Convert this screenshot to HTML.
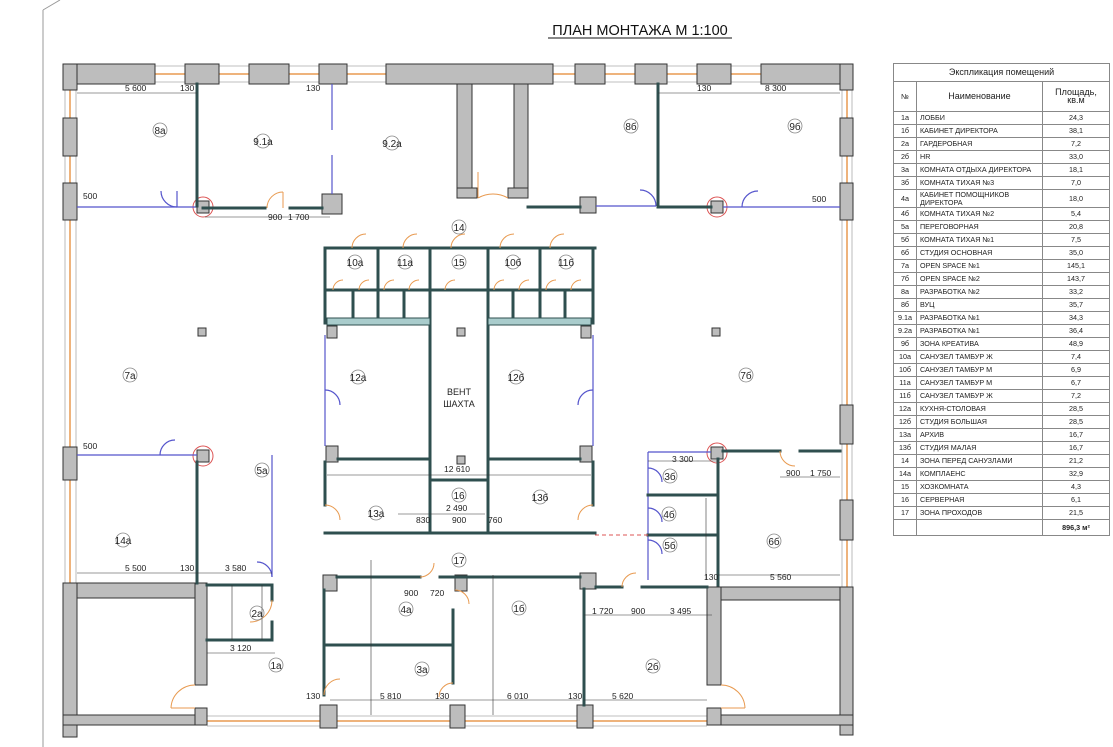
<!DOCTYPE html>
<html><head><meta charset="utf-8"><style>
body{margin:0;background:#fff;width:1113px;height:747px;overflow:hidden;font-family:"Liberation Sans",sans-serif}
svg{position:absolute;left:0;top:0}
#tb{position:absolute;left:893px;top:63px;width:217px;border-collapse:collapse;font-size:7.2px;color:#222}
#tb td{border:1px solid #888;padding:0 3px;height:12px;line-height:7.5px}
#tb td.c{text-align:center}
</style></head><body>
<svg width="1113" height="747" viewBox="0 0 1113 747" font-family="Liberation Sans, sans-serif">
<line x1="43" y1="10" x2="43" y2="747" stroke="#999" stroke-width="1"/>
<line x1="43" y1="10" x2="60" y2="0" stroke="#999"/>
<text x="640" y="35" font-size="14.5" text-anchor="middle" fill="#111">ПЛАН МОНТАЖА  М 1:100</text>
<line x1="548" y1="38" x2="732" y2="38" stroke="#111"/>
<g stroke="#aaa" stroke-width="0.8">
<line x1="63" y1="66" x2="853" y2="66"/><line x1="63" y1="82" x2="853" y2="82"/>
<line x1="65" y1="84" x2="65" y2="583"/><line x1="76" y1="84" x2="76" y2="583"/>
<line x1="842" y1="84" x2="842" y2="588"/><line x1="852" y1="84" x2="852" y2="588"/>
<line x1="207" y1="716" x2="707" y2="716"/><line x1="207" y1="726" x2="707" y2="726"/>
</g>
<g stroke="#e89a50" stroke-width="1.5">
<line x1="63" y1="74" x2="853" y2="74"/><line x1="70" y1="84" x2="70" y2="583"/>
<line x1="847" y1="84" x2="847" y2="588"/><line x1="207" y1="721" x2="707" y2="721"/>
</g>
<g fill="#bdbdbd" stroke="#333" stroke-width="1">
<rect x="63" y="64" width="92" height="20"/><rect x="63" y="64" width="14" height="26"/>
<rect x="63" y="118" width="14" height="38"/><rect x="63" y="183" width="14" height="37"/><rect x="63" y="447" width="14" height="33"/>
<rect x="185" y="64" width="34" height="20"/><rect x="249" y="64" width="40" height="20"/><rect x="319" y="64" width="28" height="20"/>
<rect x="386" y="64" width="167" height="20"/><rect x="575" y="64" width="30" height="20"/><rect x="635" y="64" width="32" height="20"/>
<rect x="697" y="64" width="34" height="20"/><rect x="761" y="64" width="92" height="20"/><rect x="840" y="64" width="13" height="26"/>
<rect x="840" y="118" width="13" height="38"/><rect x="840" y="183" width="13" height="37"/><rect x="840" y="405" width="13" height="39"/><rect x="840" y="500" width="13" height="40"/>
<rect x="320" y="705" width="17" height="23"/><rect x="450" y="705" width="15" height="23"/><rect x="577" y="705" width="16" height="23"/>
<rect x="63" y="583" width="144" height="15"/><rect x="63" y="583" width="14" height="154"/><rect x="63" y="715" width="144" height="10"/>
<rect x="195" y="583" width="12" height="102"/><rect x="195" y="708" width="12" height="17"/>
<rect x="707" y="587" width="146" height="13"/><rect x="840" y="587" width="13" height="148"/><rect x="707" y="715" width="146" height="10"/>
<rect x="707" y="587" width="14" height="98"/><rect x="707" y="708" width="14" height="17"/>
<rect x="457" y="84" width="15" height="114"/><rect x="514" y="84" width="14" height="114"/>
<rect x="457" y="188" width="20" height="10"/><rect x="508" y="188" width="20" height="10"/>
<rect x="322" y="194" width="20" height="20"/><rect x="580" y="197" width="16" height="16"/>
<rect x="197" y="201" width="12" height="12"/><rect x="711" y="201" width="12" height="12"/>
<rect x="197" y="450" width="12" height="12"/><rect x="711" y="447" width="12" height="12"/>
<rect x="326" y="446" width="12" height="16"/><rect x="580" y="446" width="12" height="16"/>
<rect x="327" y="326" width="10" height="12"/><rect x="581" y="326" width="10" height="12"/>
<rect x="580" y="573" width="16" height="16"/><rect x="323" y="575" width="14" height="16"/><rect x="455" y="575" width="12" height="16"/>
<rect x="198" y="328" width="8" height="8"/><rect x="457" y="328" width="8" height="8"/><rect x="712" y="328" width="8" height="8"/><rect x="457" y="456" width="8" height="8"/>
</g>
<g fill="none" stroke="#d55" stroke-width="1"><circle cx="203" cy="207" r="10"/><circle cx="717" cy="207" r="10"/><circle cx="203" cy="456" r="10"/><circle cx="717" cy="453" r="10"/></g>
<g stroke="#5555cc" stroke-width="1.2" fill="none">
<line x1="77" y1="207" x2="197" y2="207"/><line x1="332" y1="84" x2="332" y2="130"/><line x1="332" y1="155" x2="332" y2="194"/>
<line x1="596" y1="206" x2="656" y2="206"/><line x1="723" y1="207" x2="840" y2="207"/>
<line x1="325" y1="335" x2="325" y2="446"/><line x1="593" y1="335" x2="593" y2="446"/>
<line x1="77" y1="455" x2="197" y2="455"/><line x1="272" y1="455" x2="272" y2="577"/>
<line x1="648" y1="452" x2="711" y2="452"/><line x1="648" y1="452" x2="648" y2="580"/>
<path d="M177 207 A16 16 0 0 1 161 191"/><line x1="177" y1="207" x2="177" y2="191"/>
<path d="M656 206 A16 16 0 0 0 640 190"/><path d="M742 207 A16 16 0 0 1 758 191"/>
<path d="M325 390 A15 15 0 0 1 340 405"/><path d="M593 390 A15 15 0 0 0 578 405"/>
<path d="M272 577 A15 15 0 0 0 257 562"/><path d="M648 468 A14 14 0 0 1 662 482"/>
<path d="M648 508 A14 14 0 0 1 662 522"/><path d="M648 540 A14 14 0 0 1 662 554"/>
<path d="M160 455 A15 15 0 0 1 175 440"/>
</g>
<g stroke="#2f4f4f" stroke-width="3" fill="none" stroke-linecap="square">
<line x1="197" y1="84" x2="197" y2="206"/><line x1="203" y1="208" x2="265" y2="208"/><line x1="290" y1="208" x2="322" y2="208"/>
<line x1="528" y1="207" x2="580" y2="207"/><line x1="658" y1="84" x2="658" y2="207"/><line x1="658" y1="207" x2="711" y2="207"/>
<line x1="325" y1="248" x2="595" y2="248"/><line x1="325" y1="248" x2="325" y2="323"/><line x1="593" y1="248" x2="593" y2="323"/>
<line x1="325" y1="462" x2="325" y2="505"/><line x1="593" y1="462" x2="593" y2="505"/>
<line x1="325" y1="533" x2="595" y2="533"/>
<line x1="430" y1="248" x2="430" y2="533"/><line x1="488" y1="248" x2="488" y2="533"/>
<line x1="430" y1="290" x2="488" y2="290"/><line x1="378" y1="248" x2="378" y2="290"/><line x1="540" y1="248" x2="540" y2="290"/>
<line x1="327" y1="290" x2="430" y2="290"/><line x1="488" y1="290" x2="591" y2="290"/>
<line x1="353" y1="290" x2="353" y2="318"/><line x1="378" y1="290" x2="378" y2="318"/><line x1="404" y1="290" x2="404" y2="318"/>
<line x1="513" y1="290" x2="513" y2="318"/><line x1="540" y1="290" x2="540" y2="318"/><line x1="565" y1="290" x2="565" y2="318"/>
<line x1="338" y1="459" x2="430" y2="459"/><line x1="488" y1="459" x2="580" y2="459"/><line x1="430" y1="480" x2="488" y2="480"/>
<line x1="337" y1="577" x2="420" y2="577"/><line x1="440" y1="577" x2="580" y2="577"/>
<line x1="324" y1="590" x2="324" y2="695"/><line x1="453" y1="610" x2="453" y2="683"/>
<line x1="324" y1="645" x2="453" y2="645"/><line x1="584" y1="589" x2="584" y2="705"/>
<line x1="596" y1="587" x2="622" y2="587"/><line x1="642" y1="587" x2="707" y2="587"/>
<line x1="718" y1="459" x2="718" y2="585"/><line x1="723" y1="451" x2="780" y2="451"/><line x1="800" y1="451" x2="840" y2="451"/>
<line x1="648" y1="495" x2="718" y2="495"/><line x1="648" y1="535" x2="718" y2="535"/>
<line x1="207" y1="585" x2="272" y2="585"/><line x1="272" y1="585" x2="272" y2="600"/><line x1="272" y1="622" x2="272" y2="640"/><line x1="207" y1="640" x2="272" y2="640"/>
<line x1="197" y1="462" x2="197" y2="583"/>
</g>
<rect x="327" y="318" width="103" height="7" fill="#a9cccc" stroke="#2f4f4f"/>
<rect x="488" y="318" width="103" height="7" fill="#a9cccc" stroke="#2f4f4f"/>
<g stroke="#e89a50" stroke-width="1" fill="none">
<path d="M478 198 A30 30 0 0 1 508 198"/><line x1="478" y1="198" x2="478" y2="172"/>
<path d="M267 208 A16 16 0 0 1 283 192"/><line x1="283" y1="208" x2="283" y2="192"/>
<path d="M352 248 A14 14 0 0 1 366 234"/><path d="M403 248 A14 14 0 0 1 417 234"/><path d="M451 248 A14 14 0 0 1 465 234"/>
<path d="M500 248 A14 14 0 0 1 514 234"/><path d="M550 248 A14 14 0 0 1 564 234"/>
<path d="M333 290 A10 10 0 0 1 343 280"/><path d="M359 290 A10 10 0 0 1 369 280"/><path d="M384 290 A10 10 0 0 1 394 280"/><path d="M409 290 A10 10 0 0 1 419 280"/>
<path d="M445 290 A10 10 0 0 1 455 280"/>
<path d="M494 290 A10 10 0 0 1 504 280"/><path d="M519 290 A10 10 0 0 1 529 280"/><path d="M546 290 A10 10 0 0 1 556 280"/><path d="M571 290 A10 10 0 0 1 581 280"/>
<path d="M325 505 A15 15 0 0 1 340 520"/><path d="M593 505 A15 15 0 0 0 578 520"/>
<path d="M420 577 A14 14 0 0 0 434 563"/><path d="M455 590 A14 14 0 0 1 469 604"/>
<path d="M324 695 A16 16 0 0 1 340 679"/><path d="M453 683 A14 14 0 0 0 439 697"/>
<path d="M622 587 A14 14 0 0 1 636 573"/><path d="M272 600 A22 22 0 0 1 250 622"/>
<path d="M780 451 A15 15 0 0 0 795 466"/>
<path d="M195 685 A24 24 0 0 0 171 708"/><line x1="171" y1="708" x2="195" y2="708"/>
<path d="M721 685 A24 24 0 0 1 745 708"/><line x1="721" y1="708" x2="745" y2="708"/>
</g>
<line x1="595" y1="535" x2="648" y2="535" stroke="#d55" stroke-dasharray="4 3"/>
<g stroke="#333" stroke-width="0.6">
<line x1="77" y1="93" x2="197" y2="93"/><line x1="658" y1="93" x2="840" y2="93"/>
<line x1="205" y1="217" x2="330" y2="217"/><line x1="327" y1="475" x2="591" y2="475"/>
<line x1="77" y1="573" x2="272" y2="573"/><line x1="718" y1="575" x2="840" y2="575"/>
<line x1="207" y1="653" x2="275" y2="653"/><line x1="330" y1="700" x2="580" y2="700"/><line x1="584" y1="700" x2="707" y2="700"/>
<line x1="584" y1="615" x2="712" y2="615"/><line x1="648" y1="461" x2="718" y2="461"/><line x1="780" y1="477" x2="840" y2="477"/>
<line x1="371" y1="560" x2="371" y2="715"/><line x1="493" y1="575" x2="493" y2="715"/><line x1="706" y1="498" x2="706" y2="580"/>
<line x1="398" y1="514" x2="485" y2="514"/><line x1="262" y1="585" x2="262" y2="640"/><line x1="232" y1="585" x2="232" y2="640"/>
</g>
<g font-size="8.5" fill="#222">
<text x="125" y="91">5 600</text><text x="180" y="91">130</text><text x="306" y="91">130</text><text x="697" y="91">130</text><text x="765" y="91">8 300</text>
<text x="83" y="199">500</text><text x="812" y="202">500</text><text x="268" y="220">900</text><text x="288" y="220">1 700</text>
<text x="83" y="449">500</text><text x="444" y="472">12 610</text><text x="446" y="511">2 490</text><text x="416" y="523">830</text><text x="452" y="523">900</text><text x="488" y="523">760</text>
<text x="125" y="571">5 500</text><text x="180" y="571">130</text><text x="225" y="571">3 580</text><text x="230" y="651">3 120</text>
<text x="672" y="462">3 300</text><text x="786" y="476">900</text><text x="810" y="476">1 750</text><text x="704" y="580">130</text><text x="770" y="580">5 560</text>
<text x="404" y="596">900</text><text x="430" y="596">720</text><text x="592" y="614">1 720</text><text x="631" y="614">900</text><text x="670" y="614">3 495</text>
<text x="306" y="699">130</text><text x="380" y="699">5 810</text><text x="435" y="699">130</text><text x="507" y="699">6 010</text><text x="568" y="699">130</text><text x="612" y="699">5 620</text>
</g>
<g font-size="10" fill="#222" text-anchor="middle"><g fill="none" stroke="#888" stroke-width="0.8">
<circle cx="160" cy="130" r="7"/><circle cx="263" cy="141" r="7"/><circle cx="392" cy="143" r="7"/><circle cx="631" cy="126" r="7"/><circle cx="795" cy="126" r="7"/>
<circle cx="459" cy="227" r="7"/><circle cx="355" cy="262" r="7"/><circle cx="405" cy="262" r="7"/><circle cx="459" cy="262" r="7"/><circle cx="513" cy="262" r="7"/><circle cx="566" cy="262" r="7"/>
<circle cx="130" cy="375" r="7"/><circle cx="358" cy="377" r="7"/><circle cx="516" cy="377" r="7"/><circle cx="746" cy="375" r="7"/><circle cx="262" cy="470" r="7"/>
<circle cx="376" cy="513" r="7"/><circle cx="459" cy="495" r="7"/><circle cx="540" cy="497" r="7"/><circle cx="123" cy="540" r="7"/>
<circle cx="670" cy="476" r="7"/><circle cx="669" cy="514" r="7"/><circle cx="670" cy="545" r="7"/><circle cx="774" cy="541" r="7"/>
<circle cx="459" cy="560" r="7"/><circle cx="257" cy="613" r="7"/><circle cx="276" cy="665" r="7"/><circle cx="406" cy="609" r="7"/><circle cx="422" cy="669" r="7"/><circle cx="519" cy="608" r="7"/><circle cx="653" cy="666" r="7"/></g>
<text x="160" y="134">8а</text><text x="263" y="145">9.1а</text><text x="392" y="147">9.2а</text><text x="631" y="130">8б</text><text x="795" y="130">9б</text>
<text x="459" y="231">14</text><text x="355" y="266">10а</text><text x="405" y="266">11а</text><text x="459" y="266">15</text><text x="513" y="266">10б</text><text x="566" y="266">11б</text>
<text x="130" y="379">7а</text><text x="358" y="381">12а</text><text x="516" y="381">12б</text><text x="746" y="379">7б</text><text x="262" y="474">5а</text>
<text x="376" y="517">13а</text><text x="459" y="499">16</text><text x="540" y="501">13б</text><text x="123" y="544">14а</text>
<text x="670" y="480">3б</text><text x="669" y="518">4б</text><text x="670" y="549">5б</text><text x="774" y="545">6б</text>
<text x="459" y="564">17</text><text x="257" y="617">2а</text><text x="276" y="669">1а</text><text x="406" y="613">4а</text><text x="422" y="673">3а</text><text x="519" y="612">1б</text><text x="653" y="670">2б</text>
<text x="459" y="395" font-size="9">ВЕНТ</text><text x="459" y="407" font-size="9">ШАХТА</text>
</g>
</svg>
<table id="tb">
<tr><td colspan="3" class="c" style="font-size:9px;height:17px">Экспликация помещений</td></tr>
<tr><td class="c" style="height:29px;width:16px">№</td><td class="c" style="font-size:9px">Наименование</td><td class="c" style="font-size:9px;width:60px">Площадь,<br>кв.м</td></tr>
<tr><td class="c">1а</td><td>ЛОББИ</td><td class="c">24,3</td></tr>
<tr><td class="c">1б</td><td>КАБИНЕТ ДИРЕКТОРА</td><td class="c">38,1</td></tr>
<tr><td class="c">2а</td><td>ГАРДЕРОБНАЯ</td><td class="c">7,2</td></tr>
<tr><td class="c">2б</td><td>HR</td><td class="c">33,0</td></tr>
<tr><td class="c">3а</td><td>КОМНАТА ОТДЫХА ДИРЕКТОРА</td><td class="c">18,1</td></tr>
<tr><td class="c">3б</td><td>КОМНАТА ТИХАЯ №3</td><td class="c">7,0</td></tr>
<tr><td class="c" style="height:17px">4а</td><td>КАБИНЕТ ПОМОЩНИКОВ ДИРЕКТОРА</td><td class="c">18,0</td></tr>
<tr><td class="c">4б</td><td>КОМНАТА ТИХАЯ №2</td><td class="c">5,4</td></tr>
<tr><td class="c">5а</td><td>ПЕРЕГОВОРНАЯ</td><td class="c">20,8</td></tr>
<tr><td class="c">5б</td><td>КОМНАТА ТИХАЯ №1</td><td class="c">7,5</td></tr>
<tr><td class="c">6б</td><td>СТУДИЯ ОСНОВНАЯ</td><td class="c">35,0</td></tr>
<tr><td class="c">7а</td><td>OPEN SPACE №1</td><td class="c">145,1</td></tr>
<tr><td class="c">7б</td><td>OPEN SPACE №2</td><td class="c">143,7</td></tr>
<tr><td class="c">8а</td><td>РАЗРАБОТКА №2</td><td class="c">33,2</td></tr>
<tr><td class="c">8б</td><td>ВУЦ</td><td class="c">35,7</td></tr>
<tr><td class="c">9.1а</td><td>РАЗРАБОТКА №1</td><td class="c">34,3</td></tr>
<tr><td class="c">9.2а</td><td>РАЗРАБОТКА №1</td><td class="c">36,4</td></tr>
<tr><td class="c">9б</td><td>ЗОНА КРЕАТИВА</td><td class="c">48,9</td></tr>
<tr><td class="c">10а</td><td>САНУЗЕЛ ТАМБУР Ж</td><td class="c">7,4</td></tr>
<tr><td class="c">10б</td><td>САНУЗЕЛ ТАМБУР М</td><td class="c">6,9</td></tr>
<tr><td class="c">11а</td><td>САНУЗЕЛ ТАМБУР М</td><td class="c">6,7</td></tr>
<tr><td class="c">11б</td><td>САНУЗЕЛ ТАМБУР Ж</td><td class="c">7,2</td></tr>
<tr><td class="c">12а</td><td>КУХНЯ-СТОЛОВАЯ</td><td class="c">28,5</td></tr>
<tr><td class="c">12б</td><td>СТУДИЯ БОЛЬШАЯ</td><td class="c">28,5</td></tr>
<tr><td class="c">13а</td><td>АРХИВ</td><td class="c">16,7</td></tr>
<tr><td class="c">13б</td><td>СТУДИЯ МАЛАЯ</td><td class="c">16,7</td></tr>
<tr><td class="c">14</td><td>ЗОНА ПЕРЕД САНУЗЛАМИ</td><td class="c">21,2</td></tr>
<tr><td class="c">14а</td><td>КОМПЛАЕНС</td><td class="c">32,9</td></tr>
<tr><td class="c">15</td><td>ХОЗКОМНАТА</td><td class="c">4,3</td></tr>
<tr><td class="c">16</td><td>СЕРВЕРНАЯ</td><td class="c">6,1</td></tr>
<tr><td class="c">17</td><td>ЗОНА ПРОХОДОВ</td><td class="c">21,5</td></tr>
<tr><td style="height:15px"></td><td></td><td class="c"><b>896,3 м²</b></td></tr>
</table>
</body></html>
